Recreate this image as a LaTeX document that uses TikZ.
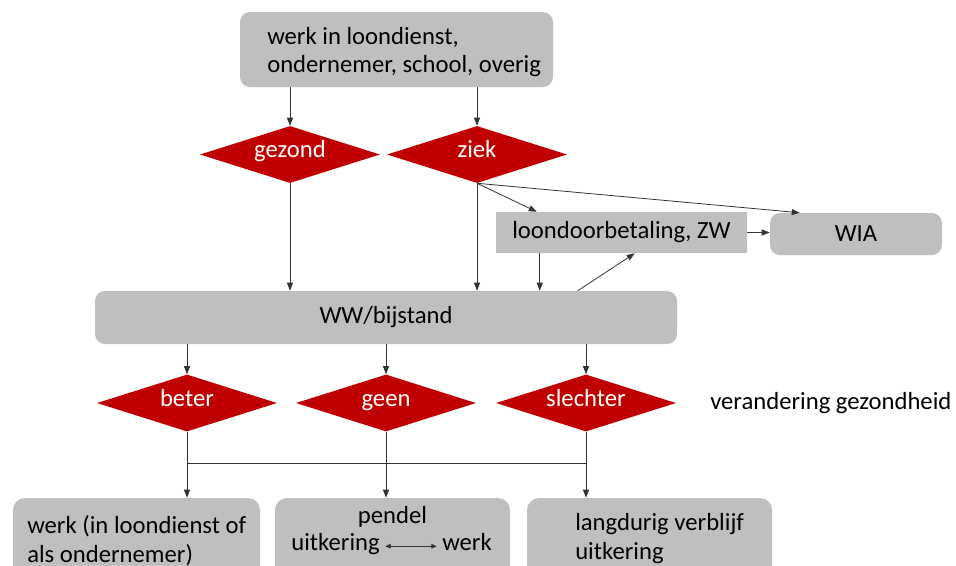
\documentclass[tikz,border=0pt]{standalone}
\usepackage{fontspec}
\setmainfont{Carlito}
\usetikzlibrary{shapes.geometric,arrows.meta}

\definecolor{blokgrijs}{HTML}{BFBFBF}
\definecolor{donkerrood}{HTML}{C00000}

\tikzset{
  blok/.style={fill=blokgrijs, rounded corners=7.5pt, inner sep=0pt},
  keuze/.style={diamond, fill=donkerrood, text=white, aspect=3.2,
    minimum width=135pt, minimum height=42.75pt, inner sep=0pt,
    text height=10pt, text depth=5pt},
  tekst/.style={align=left, inner sep=0pt},
  lijn/.style={draw=black!80, line width=.6pt},
  pijl/.style={lijn, -{Triangle[length=6pt,width=4.5pt]}},
}

\begin{document}
\begin{tikzpicture}[x=.75pt, y=-.75pt, font=\fontsize{18.5}{21.5}\selectfont]
  \clip (0,0) rectangle (956,565);
  % begin
  \node[blok, minimum width=234.75pt, minimum height=56.25pt] (start) at (396.5,49.5) {};
  \node[tekst, anchor=west] (starttekst) at (267,52) {werk in loondienst,\\ondernemer, school, overig};
  \node[keuze] (gezond) at (290,154.5) {gezond};
  \node[keuze] (ziek) at (477,154.5) {ziek};
  % ziek
  \node[blok, sharp corners, minimum width=188.25pt, minimum height=30.75pt] (lzw) at (621.5,232.5) {loondoorbetaling, ZW};
  \node[blok, minimum width=129pt, minimum height=31.5pt] (wia) at (856,234) {WIA};
  \node[blok, minimum width=436.5pt, minimum height=39.75pt] (ww) at (386,317.5) {WW/bijstand};
  % gezondheid
  \node[keuze] (beter) at (187,403) {beter};
  \node[keuze] (geen) at (386,403) {geen};
  \node[keuze] (slechter) at (586,403) {slechter};
  \node[tekst, anchor=west] (verandering) at (710,403) {verandering gezondheid};
  % uitkomst
  \node[blok, rounded corners=9pt, minimum width=185.25pt, minimum height=61.5pt] (werk) at (136.5,539) {};
  \node[blok, rounded corners=9pt, minimum width=176.25pt, minimum height=61.5pt] (pendel) at (392.5,539) {};
  \node[blok, rounded corners=9pt, minimum width=183.75pt, minimum height=61.5pt] (verblijf) at (649.5,539) {};
  \node[tekst, anchor=west] (werktekst) at (27,541) {werk (in loondienst of\\als ondernemer)};
  \node[inner sep=0pt] (pendeltekst) at (392.5,517) {pendel};
  \node[anchor=base east, inner sep=0pt] (uitkering) at (380,550) {uitkering};
  \node[anchor=base west, inner sep=0pt] (werkpendel) at (442,550) {werk};
  \node[tekst, anchor=west] (verblijftekst) at (575,538.5) {langdurig verblijf\\uitkering};

  \draw[pijl] (start.south -| gezond) -- (gezond.north);
  \draw[pijl] (start.south -| ziek) -- (ziek.north);
  \draw[pijl] (gezond.south) -- (gezond.south |- ww.north);
  \draw[pijl] (ziek.south) -- (ziek.south |- ww.north);
  \draw[pijl] (ziek.south) -- ([xshift=30.75pt]lzw.north west);
  \draw[pijl] (ziek.south) -- ([xshift=22.5pt]wia.north west);
  \draw[pijl] (lzw.east) -- (lzw.east -| wia.west);
  \draw[pijl] ([xshift=33pt]lzw.south west) -- ([xshift=33pt]lzw.south west |- ww.north);
  \draw[pijl] ([xshift=362.25pt]ww.north west) -- ([xshift=104.25pt]lzw.south west);
  \foreach \k in {beter,geen,slechter}{
    \draw[pijl] (ww.south -| \k) -- (\k.north);
  }
  \coordinate (splits) at (0,463);
  \draw[lijn] (beter.south |- splits) -- (slechter.south |- splits);
  \draw[pijl] (beter.south) -- (beter.south |- werk.north);
  \draw[pijl] (geen.south) -- (geen.south |- pendel.north);
  \draw[pijl] (slechter.south) -- (slechter.south |- verblijf.north);
  \draw[lijn, {Triangle[length=4pt,width=3.5pt]}-{Triangle[length=4pt,width=3.5pt]}]
    ([xshift=4pt,yshift=-2pt]uitkering.east) -- ([xshift=-4pt,yshift=-2pt]uitkering.east -| werkpendel.west);
\end{tikzpicture}
\end{document}
